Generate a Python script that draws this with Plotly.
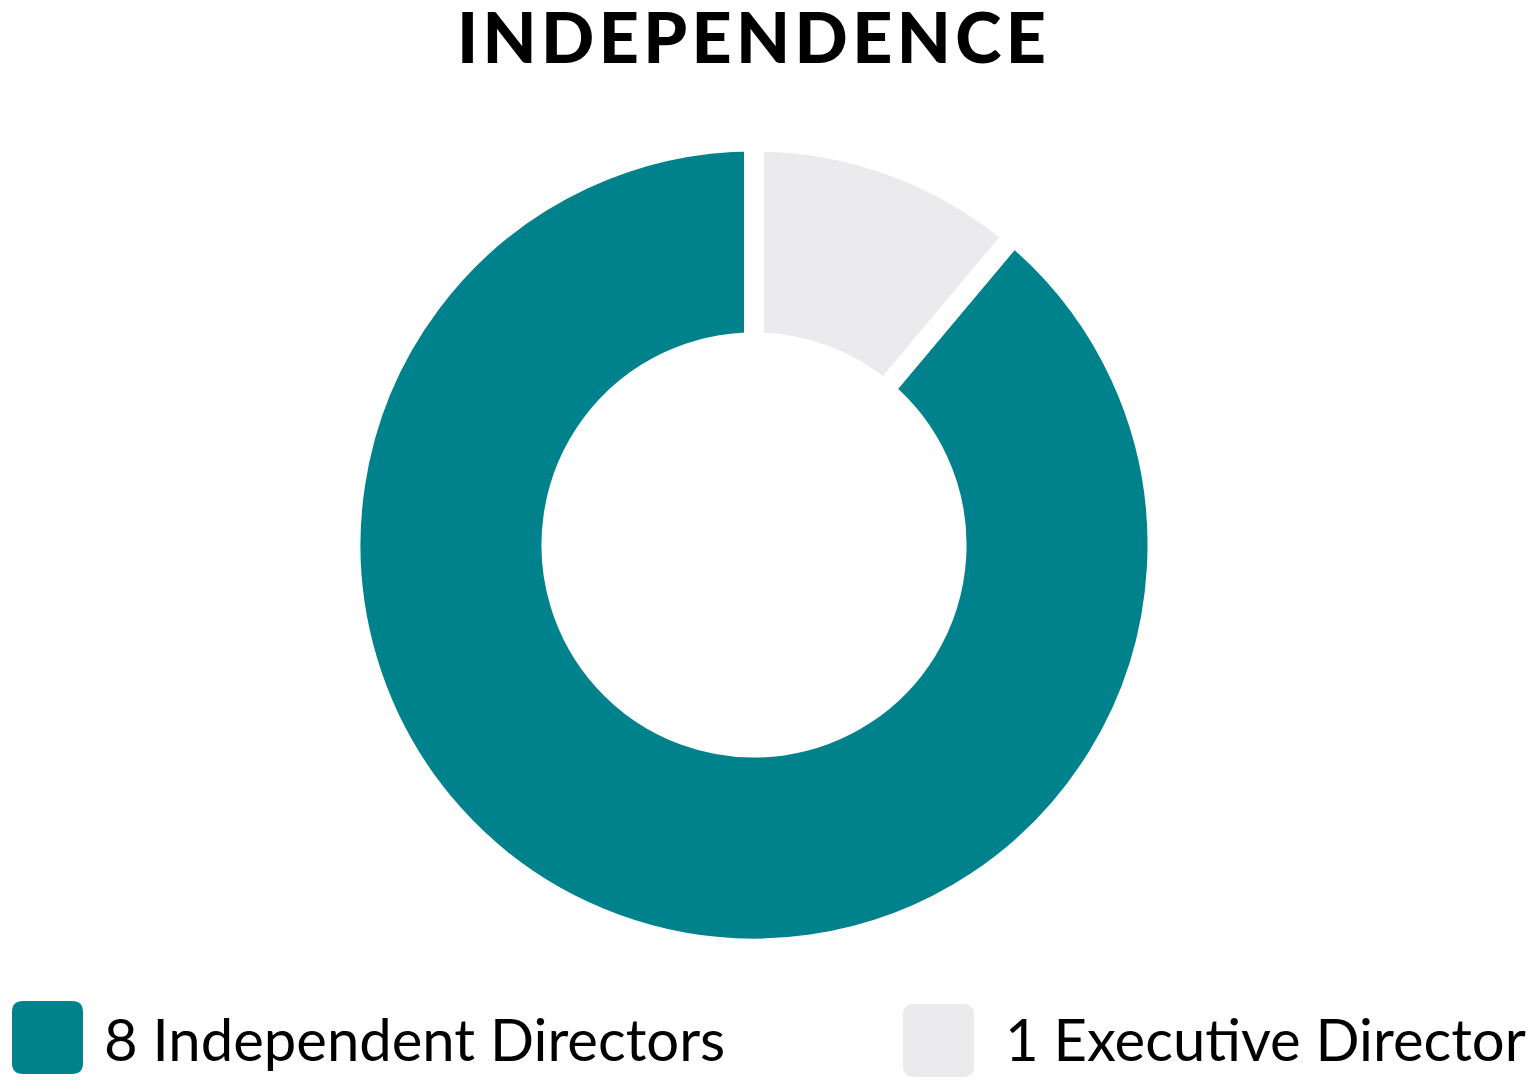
import plotly.graph_objects as go

labels = ['8 Independent Directors', '1 Executive Director']
values = [8, 1]
colors = ['#00828C', '#EBEBED']
title_text = 'INDEPENDENCE'

W, H = 1535, 1084

# donut placement in pixels
cx, cy, R = 754, 545, 403.5


def px(x):
    return x / W


def py(y):
    return 1 - y / H


# start the big slice where the small one ends, so the small one sits right of 12 o'clock
start_angle = 360 * values[1] / sum(values)

fig = go.Figure()

fig.add_trace(go.Pie(
    labels=labels,
    values=values,
    hole=0.502,
    sort=False,
    direction='clockwise',
    rotation=start_angle,
    marker=dict(colors=colors, line=dict(color='white', width=20)),
    textinfo='none',
    hoverinfo='label+value',
    showlegend=False,
    domain=dict(x=[px(cx - R), px(cx + R)], y=[py(cy + R), py(cy - R)]),
))


def rounded_rect(x0, y0, x1, y1, r):
    # pixel coords -> paper path with rounded corners
    rx, ry = r / W, r / H
    a, b, c, d = px(x0), px(x1), py(y1), py(y0)
    return (f'M {a+rx},{c} L {b-rx},{c} Q {b},{c} {b},{c+ry} '
            f'L {b},{d-ry} Q {b},{d} {b-rx},{d} L {a+rx},{d} '
            f'Q {a},{d} {a},{d-ry} L {a},{c+ry} Q {a},{c} {a+rx},{c} Z')


# hand-built legend with big rounded swatches
swatch_x = [12, 903]
swatch_y = [1001, 1004]
text_x = [102, 1528]
text_anchor = ['left', 'right']
shapes = []
annotations = []
for i, lab in enumerate(labels):
    shapes.append(dict(
        type='path', xref='paper', yref='paper',
        path=rounded_rect(swatch_x[i], swatch_y[i], swatch_x[i] + 71, swatch_y[i] + 73, 11),
        fillcolor=colors[i], line=dict(width=0),
    ))
    annotations.append(dict(
        text=lab, x=px(text_x[i]), y=py(1038), xref='paper', yref='paper',
        xanchor=text_anchor[i], yanchor='middle', showarrow=False,
        font=dict(family='Lato', size=58, color='black'),
    ))

fig.update_layout(
    width=W,
    height=H,
    margin=dict(l=0, r=0, t=0, b=0),
    paper_bgcolor='white',
    plot_bgcolor='white',
    title=dict(
        text='\u200a'.join(title_text),
        x=px(751.5), y=py(38), xanchor='center', yanchor='middle',
        font=dict(family='Lato', size=70, color='black', weight=900),
    ),
    shapes=shapes,
    annotations=annotations,
)

# drop the default page margin so the figure sits at the window corner
fig.write_html('out.html', config={'displayModeBar': False},
               post_script="document.body.style.margin='0';")
